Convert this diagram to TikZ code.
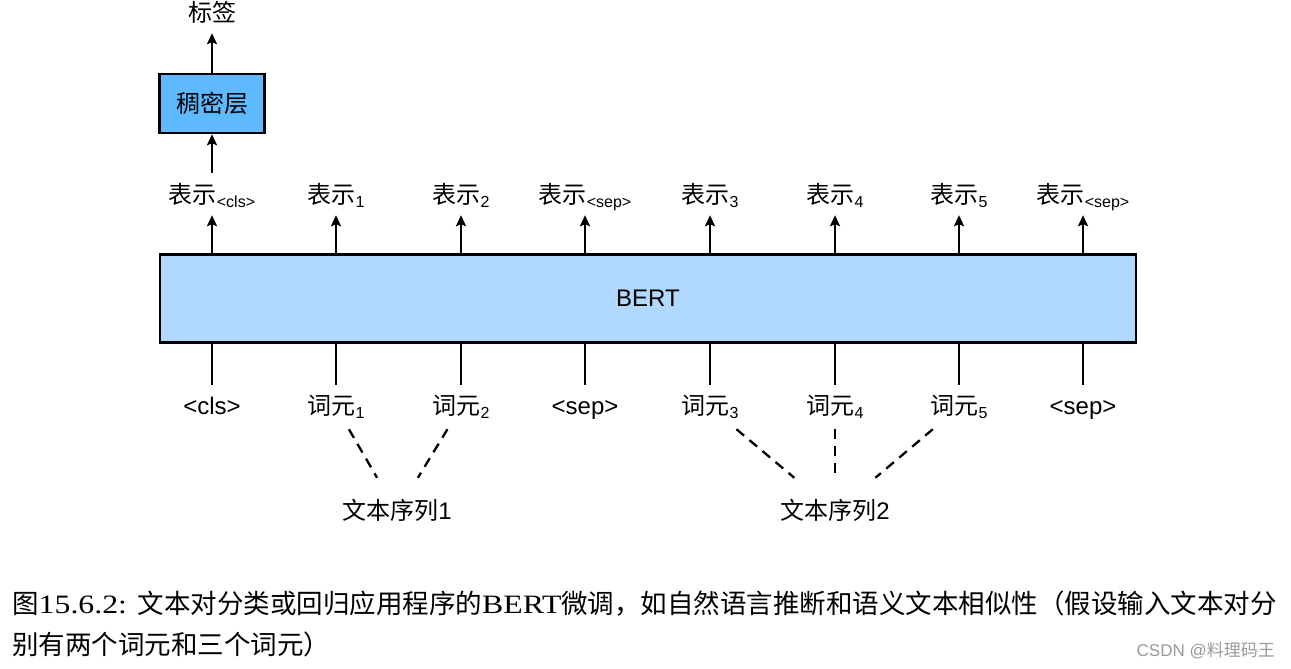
\documentclass[tikz,border=0pt]{standalone}
\usepackage{fontspec}
\setmainfont{Liberation Sans}
\newfontfamily\cjk{Noto Sans CJK SC}
\newfontfamily\capser[FakeStretch=1.2]{Liberation Serif}
\usetikzlibrary{arrows.meta}
\definecolor{bertblue}{HTML}{B1D8FF}
\definecolor{denseblue}{HTML}{5EB9FE}
\definecolor{wmgray}{HTML}{9A9A9A}
\newcommand{\dn}[1]{\raisebox{-4pt}{\fontsize{16}{16}\selectfont #1}}
\begin{document}
\begin{tikzpicture}[x=1pt,y=-1pt,
  every node/.style={font=\fontsize{24}{28}\selectfont},
  lbl/.style={anchor=base, inner xsep=2pt, text height=18pt, text depth=4pt},
  toplbl/.style={lbl, text depth=0pt, inner ysep=12pt},
  botlbl/.style={lbl, inner ysep=11pt},
  grplbl/.style={lbl, inner ysep=23pt},
  outlbl/.style={lbl, inner ysep=7pt},
  blk/.style={draw=black, line width=2.4pt, inner sep=0pt},
  arr/.style={line width=2.3pt, -{Stealth[length=11pt,width=10pt,inset=2pt]}},
  plain/.style={line width=2.3pt},
  dsh/.style={line width=2.3pt, dash pattern=on 10pt off 7pt},
  captxt/.style={anchor=base west, inner sep=0pt, font=\fontsize{26.5}{30}\selectfont}
]
\useasboundingbox (0,0) rectangle (1291,669);

% blocks
\node[blk, fill=bertblue, minimum width=976pt, minimum height=88pt] (bert) at (648,298.5) {BERT};
\node[blk, fill=denseblue, minimum width=105pt, minimum height=59pt] (dense) at (212,103.5) {\cjk 稠密层};
\node[outlbl] (lab) at (212,22) {\cjk 标签};

% top labels
\node[toplbl] (r0) at (212,203) {{\cjk 表示}\dn{<cls>}};
\node[toplbl] (r1) at (336,203) {{\cjk 表示}\dn{1}};
\node[toplbl] (r2) at (461,203) {{\cjk 表示}\dn{2}};
\node[toplbl] (r3) at (585,203) {{\cjk 表示}\dn{<sep>}};
\node[toplbl] (r4) at (710,203) {{\cjk 表示}\dn{3}};
\node[toplbl] (r5) at (835,203) {{\cjk 表示}\dn{4}};
\node[toplbl] (r6) at (959,203) {{\cjk 表示}\dn{5}};
\node[toplbl] (r7) at (1083,203) {{\cjk 表示}\dn{<sep>}};

% bottom labels
\node[botlbl] (t0) at (212,414) {<cls>};
\node[botlbl] (t1) at (336,414) {{\cjk 词元}\dn{1}};
\node[botlbl] (t2) at (461,414) {{\cjk 词元}\dn{2}};
\node[botlbl] (t3) at (585,414) {<sep>};
\node[botlbl] (t4) at (710,414) {{\cjk 词元}\dn{3}};
\node[botlbl] (t5) at (835,414) {{\cjk 词元}\dn{4}};
\node[botlbl] (t6) at (959,414) {{\cjk 词元}\dn{5}};
\node[botlbl] (t7) at (1083,414) {<sep>};

% group labels
\node[grplbl] (g1) at (397,519) {{\cjk 文本序列}1};
\node[grplbl] (g2) at (835,519) {{\cjk 文本序列}2};

% connectors
\draw[arr] (dense.north) -- (lab.south);
\draw[arr] (r0.north) -- (dense.south);
\foreach \i in {0,...,7}{
  \draw[arr] (bert.north -| r\i) -- (r\i.south);
  \draw[plain] (bert.south -| t\i) -- (t\i.north);
}
\draw[dsh] (t1) -- (g1);
\draw[dsh] (t2) -- (g1);
\draw[dsh] (t4) -- (g2);
\draw[dsh] (t5) -- (g2);
\draw[dsh] (t6) -- (g2);

% caption
\node[captxt] (cap1) at (12,613) {{\cjk 图}{\capser 15.6.2: }{\cjk 文本对分类或回归应用程序的}{\capser BERT}{\cjk 微调，如自然语言推断和语义文本相似性（假设输入文本对分}};
\node[captxt] (cap2) at (12,654) {{\cjk 别有两个词元和三个词元）}};
\node[anchor=base east, inner sep=0pt, text=wmgray, font=\fontsize{17}{17}\selectfont] (wm) at (1275,656) {CSDN @{\cjk 料理码王}};
\end{tikzpicture}
\end{document}
